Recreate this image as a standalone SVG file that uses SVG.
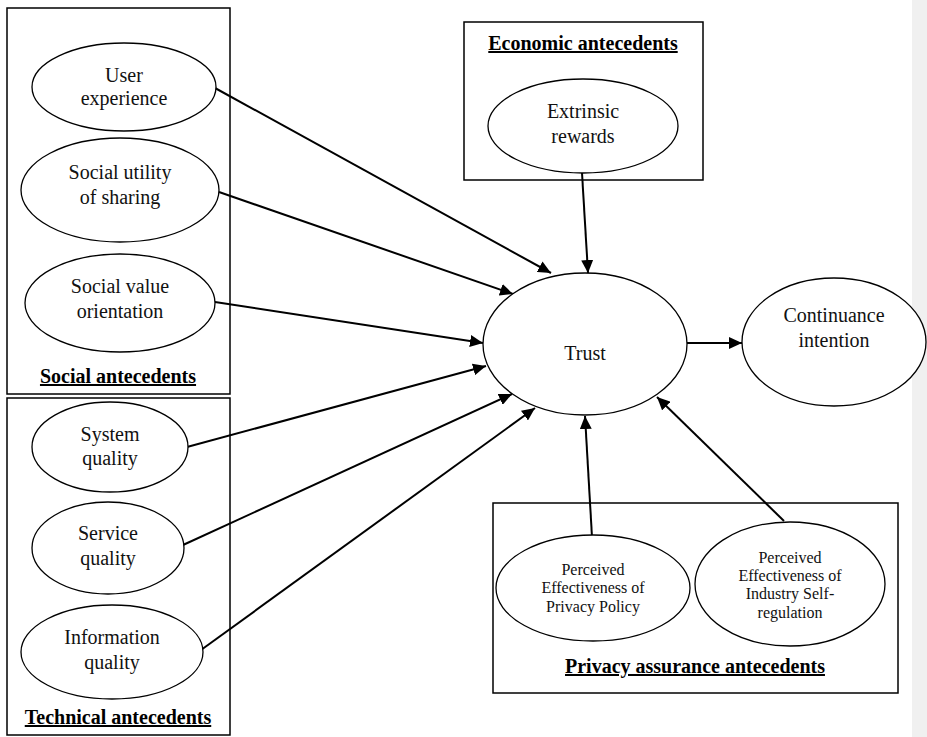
<svg xmlns="http://www.w3.org/2000/svg" width="927" height="737" viewBox="0 0 927 737">
<defs>
<marker id="ah" markerUnits="userSpaceOnUse" markerWidth="14" markerHeight="12" refX="13" refY="6" orient="auto">
<path d="M0,0 L13,6 L0,12 Z" fill="#000"/>
</marker>
<style>
.box{fill:none;stroke:#000;stroke-width:1.5}
.ell{fill:#fff;stroke:#000;stroke-width:1.3}
.t{font-family:"Liberation Serif","Times New Roman",serif;font-size:20px;fill:#111;text-anchor:middle}
.s{font-family:"Liberation Serif","Times New Roman",serif;font-size:16px;fill:#111;text-anchor:middle}
.h{font-family:"Liberation Serif","Times New Roman",serif;font-size:20px;font-weight:bold;fill:#000;text-anchor:middle;text-decoration:underline}
.c{fill:none;stroke:#000;stroke-width:2;marker-end:url(#ah)}
</style>
</defs>
<rect x="912" y="0" width="15" height="737" fill="#f0f0f0"/>

<g id="social-antecedents">
<rect class="box" x="7" y="8" width="223" height="386"/>
<text class="h" x="118" y="383">Social antecedents</text>
</g>
<g id="technical-antecedents">
<rect class="box" x="7" y="398" width="223" height="337"/>
<text class="h" x="118" y="724">Technical antecedents</text>
</g>
<g id="economic-antecedents">
<rect class="box" x="464" y="22" width="239" height="158"/>
<text class="h" x="583" y="50">Economic antecedents</text>
</g>
<g id="privacy-assurance-antecedents">
<rect class="box" x="493" y="503" width="405" height="190"/>
<text class="h" x="695" y="673">Privacy assurance antecedents</text>
</g>

<g id="connectors">
<line class="c" x1="215" y1="88" x2="551" y2="273"/>
<line class="c" x1="219" y1="192" x2="513" y2="294"/>
<line class="c" x1="215" y1="302" x2="483" y2="343"/>
<line class="c" x1="187" y1="447" x2="486" y2="366"/>
<line class="c" x1="183" y1="545" x2="512" y2="394"/>
<line class="c" x1="201" y1="650" x2="535" y2="408"/>
<line class="c" x1="582" y1="173" x2="588" y2="273"/>
<line class="c" x1="592" y1="537" x2="585" y2="416"/>
<line class="c" x1="784" y1="521" x2="657" y2="397"/>
<line class="c" x1="687" y1="343" x2="742" y2="343"/>
</g>

<g id="user-experience">
<ellipse class="ell" cx="124" cy="87" rx="92" ry="44"/>
<text class="t" x="124" y="82">User</text>
<text class="t" x="124" y="105">experience</text>
</g>
<g id="social-utility">
<ellipse class="ell" cx="120" cy="190" rx="99" ry="52"/>
<text class="t" x="120" y="179">Social utility</text>
<text class="t" x="120" y="204">of sharing</text>
</g>
<g id="social-value">
<ellipse class="ell" cx="120" cy="303" rx="95" ry="49"/>
<text class="t" x="120" y="293">Social value</text>
<text class="t" x="120" y="318">orientation</text>
</g>
<g id="system-quality">
<ellipse class="ell" cx="110" cy="447" rx="78" ry="45"/>
<text class="t" x="110" y="441">System</text>
<text class="t" x="110" y="465">quality</text>
</g>
<g id="service-quality">
<ellipse class="ell" cx="108" cy="548" rx="76" ry="46"/>
<text class="t" x="108" y="540">Service</text>
<text class="t" x="108" y="565">quality</text>
</g>
<g id="information-quality">
<ellipse class="ell" cx="112" cy="652" rx="91" ry="47"/>
<text class="t" x="112" y="644">Information</text>
<text class="t" x="112" y="669">quality</text>
</g>
<g id="extrinsic-rewards">
<ellipse class="ell" cx="583" cy="126" rx="95" ry="47"/>
<text class="t" x="583" y="118">Extrinsic</text>
<text class="t" x="583" y="143">rewards</text>
</g>
<g id="trust">
<ellipse class="ell" cx="585" cy="344" rx="102" ry="71"/>
<text class="t" x="585" y="360">Trust</text>
</g>
<g id="continuance-intention">
<ellipse class="ell" cx="834" cy="342" rx="92" ry="64"/>
<text class="t" x="834" y="322">Continuance</text>
<text class="t" x="834" y="347">intention</text>
</g>
<g id="privacy-policy">
<ellipse class="ell" cx="593" cy="588" rx="97" ry="53"/>
<text class="s" x="593" y="575">Perceived</text>
<text class="s" x="593" y="593">Effectiveness of</text>
<text class="s" x="593" y="612">Privacy Policy</text>
</g>
<g id="industry-self-regulation">
<ellipse class="ell" cx="790" cy="584" rx="95" ry="62"/>
<text class="s" x="790" y="563">Perceived</text>
<text class="s" x="790" y="581">Effectiveness of</text>
<text class="s" x="790" y="599">Industry Self-</text>
<text class="s" x="790" y="618">regulation</text>
</g>
</svg>
